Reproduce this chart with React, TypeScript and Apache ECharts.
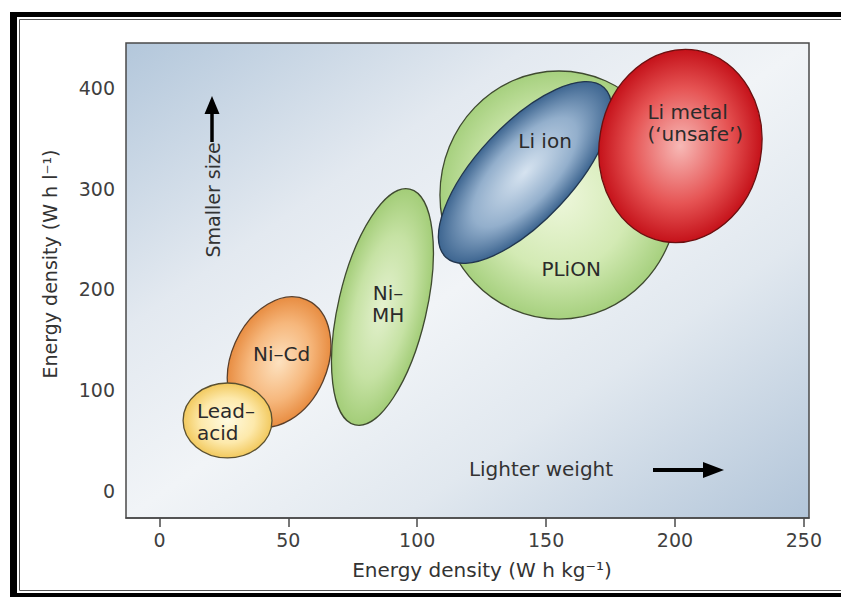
import React, { useEffect, useRef } from "react";
import * as echarts from "echarts";

// ---------- data (Wh/kg , Wh/l) ----------
const technologies = ["PLiON", "Li ion", "Li metal", "Ni–MH", "Ni–Cd", "Lead–acid"];
// centre of each technology's region
const centreWhPerKg = [155.0, 141.8, 202.1, 86.5, 46.4, 26.4];
const centreWhPerL = [293.6, 316.0, 342.3, 182.4, 127.9, 69.8];
// end point of the long semi-axis of each region
const tipWhPerKg = [155.0, 172.5, 208.7, 97.1, 57.1, 43.65];
const tipWhPerL = [416.7, 400.1, 437.1, 299.5, 189.5, 69.8];
// short / long axis ratio
const axisRatio = [0.96, 0.414, 0.835, 0.364, 0.706, 0.843];

// region labels
const labelTexts = ["PLiON", "Li ion", "Li metal\n(‘unsafe’)", "Ni–\nMH", "Ni–Cd", "Lead–\nacid"];
const labelWhPerKg = [159.7, 149.6, 189.3, 88.7, 47.4, 14.55];
const labelWhPerL = [220.2, 347.2, 364.6, 185.4, 135.8, 67.8];

const xTicks = [0, 50, 100, 150, 200, 250];
const yTicks = [0, 100, 200, 300, 400];

// ---------- styles ----------
const FONT = '"DejaVu Sans", "Liberation Sans", sans-serif';
const palette = [
  { stops: ["#eef7dc", "#d3eab4", "#a6d07e"], stroke: "#3f4a30" }, // PLiON
  { stops: ["#d6e3f0", "#93afcc", "#3d6590"], stroke: "#22364e" }, // Li ion
  { stops: ["#f7b9b6", "#e65454", "#c5121a"], stroke: "#6a1010" }, // Li metal
  { stops: ["#e4f1cf", "#c6e2a4", "#a3cd78"], stroke: "#3f4a30" }, // Ni-MH
  { stops: ["#fde2c0", "#f6b77c", "#e88d42"], stroke: "#5a3f2a" }, // Ni-Cd
  { stops: ["#fffae0", "#fde9ab", "#f2c95e"], stroke: "#5a5030" }, // Lead-acid
];
const labelAlign = ["center", "center", "left", "center", "center", "left"];

function centredText(text: string, x: number, y: number, size: number, rotation = 0) {
  return {
    type: "text",
    x,
    y,
    rotation,
    style: {
      text,
      fontSize: size,
      fontFamily: FONT,
      fill: "#333",
      align: "center",
      verticalAlign: "middle",
      textAlign: "center",
      textVerticalAlign: "middle",
    },
  };
}

export default function App() {
  const ref = useRef<HTMLDivElement>(null);

  useEffect(() => {
    if (!ref.current) return;
    const chart = echarts.init(ref.current, null, { renderer: "svg" });

    const ellipseData = technologies.map((name, i) => ({
      name,
      value: [centreWhPerKg[i], centreWhPerL[i], tipWhPerKg[i], tipWhPerL[i], axisRatio[i]],
    }));
    const labelData = technologies.map((name, i) => ({
      name,
      value: [labelWhPerKg[i], labelWhPerL[i]],
    }));

    const option: any = {
      animation: false,
      backgroundColor: "#ffffff",
      grid: {
        left: 126,
        top: 43,
        width: 683,
        height: 475,
        show: true,
        borderColor: "#4a4a4a",
        borderWidth: 1.5,
        backgroundColor: {
          type: "linear",
          x: 0,
          y: 0,
          x2: 1,
          y2: 1,
          colorStops: [
            { offset: 0, color: "#b3c7db" },
            { offset: 0.3, color: "#e3e9f0" },
            { offset: 0.5, color: "#f1f4f7" },
            { offset: 0.7, color: "#e1e8ef" },
            { offset: 1, color: "#b2c5d9" },
          ],
        },
      },
      xAxis: {
        type: "value",
        min: -13,
        max: 252,
        axisLine: { show: true, onZero: false, lineStyle: { color: "#4a4a4a", width: 1.5 } },
        axisTick: {
          show: true,
          length: 9,
          customValues: xTicks,
          lineStyle: { color: "#4a4a4a", width: 1.5 },
        },
        axisLabel: {
          customValues: xTicks,
          margin: 12,
          fontSize: 19,
          fontFamily: FONT,
          color: "#3f3f3f",
        },
        splitLine: { show: false },
      },
      yAxis: {
        type: "value",
        min: -27,
        max: 444.5,
        axisLine: { show: false, onZero: false },
        axisTick: { show: false },
        axisLabel: {
          customValues: yTicks,
          margin: 11,
          fontSize: 19,
          fontFamily: FONT,
          color: "#3f3f3f",
        },
        splitLine: { show: false },
      },
      series: [
        {
          type: "custom",
          name: "regions",
          coordinateSystem: "cartesian2d",
          clip: false,
          encode: { x: [0, 2], y: [1, 3] },
          data: ellipseData,
          renderItem: (params: any, api: any) => {
            const i = params.dataIndex;
            const c = api.coord([api.value(0), api.value(1)]);
            const t = api.coord([api.value(2), api.value(3)]);
            const dx = t[0] - c[0];
            const dy = t[1] - c[1];
            const a = Math.hypot(dx, dy);
            const b = a * (api.value(4) as number);
            const ang = Math.atan2(dy, dx);
            const p = palette[i];
            return {
              type: "ellipse",
              x: c[0],
              y: c[1],
              rotation: -ang,
              shape: { cx: 0, cy: 0, rx: a, ry: b },
              style: {
                fill: {
                  type: "radial",
                  x: 0.5,
                  y: 0.5,
                  r: 0.5,
                  colorStops: [
                    { offset: 0, color: p.stops[0] },
                    { offset: 0.6, color: p.stops[1] },
                    { offset: 1, color: p.stops[2] },
                  ],
                },
                stroke: p.stroke,
                lineWidth: 1.3,
              },
            };
          },
          z: 2,
        },
        {
          type: "custom",
          name: "labels",
          coordinateSystem: "cartesian2d",
          clip: false,
          data: labelData,
          renderItem: (params: any, api: any) => {
            const i = params.dataIndex;
            const c = api.coord([api.value(0), api.value(1)]);
            return {
              type: "text",
              x: c[0],
              y: c[1],
              style: {
                text: labelTexts[i],
                fontSize: 20,
                fontFamily: FONT,
                fill: "#2b2b2b",
                align: labelAlign[i],
                verticalAlign: "middle",
                textAlign: labelAlign[i],
                textVerticalAlign: "middle",
                lineHeight: 22,
              },
            };
          },
          z: 3,
        },
      ],
      graphic: [
        // frame
        { type: "rect", shape: { x: 10, y: 12, width: 831, height: 5 }, style: { fill: "#000" } },
        { type: "rect", shape: { x: 10, y: 12, width: 7, height: 585 }, style: { fill: "#000" } },
        { type: "rect", shape: { x: 10, y: 593, width: 831, height: 4 }, style: { fill: "#000" } },
        { type: "line", shape: { x1: 19.5, y1: 19.5, x2: 841, y2: 19.5 }, style: { stroke: "#555", lineWidth: 1 } },
        { type: "line", shape: { x1: 19.5, y1: 19.5, x2: 19.5, y2: 590.5 }, style: { stroke: "#555", lineWidth: 1 } },
        { type: "line", shape: { x1: 19.5, y1: 590.5, x2: 841, y2: 590.5 }, style: { stroke: "#555", lineWidth: 1 } },
        // axis titles
        centredText("Energy density (W h kg⁻¹)", 482, 570, 20),
        centredText("Energy density (W h l⁻¹)", 50, 264, 19, Math.PI / 2),
        // smaller size annotation
        { type: "line", shape: { x1: 212, y1: 142, x2: 212, y2: 110 }, style: { stroke: "#000", lineWidth: 3.5 } },
        { type: "polygon", shape: { points: [[212, 96], [204.5, 114], [219.5, 114]] }, style: { fill: "#000" } },
        centredText("Smaller size", 213, 200, 19, Math.PI / 2),
        // lighter weight annotation
        centredText("Lighter weight", 541, 469, 20),
        { type: "line", shape: { x1: 653, y1: 470, x2: 710, y2: 470 }, style: { stroke: "#000", lineWidth: 4 } },
        { type: "polygon", shape: { points: [[724, 470], [703, 462], [703, 478]] }, style: { fill: "#000" } },
      ],
    };

    chart.setOption(option);
    return () => chart.dispose();
  }, []);

  return (
    <div style={{ position: "fixed", left: 0, top: 0, width: 841, height: 597, background: "#fff" }}>
      <div ref={ref} style={{ width: 841, height: 597 }} />
    </div>
  );
}
